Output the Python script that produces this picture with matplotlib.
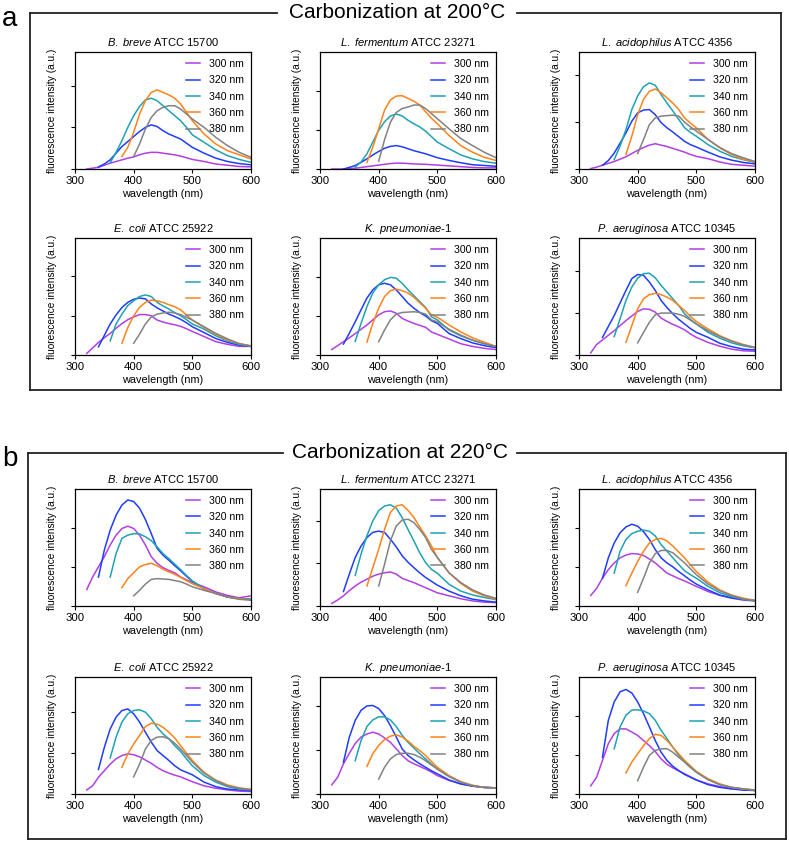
import matplotlib.pyplot as plt
from matplotlib.lines import Line2D

plt.rcParams['font.family'] = ['Liberation Sans', 'DejaVu Sans']
plt.rcParams['mathtext.fontset'] = 'custom'
plt.rcParams['mathtext.rm'] = 'Liberation Sans'
plt.rcParams['mathtext.it'] = 'Liberation Sans:italic'

# emission wavelength grid (nm)
wl = [320, 330, 340, 350, 360, 370, 380, 390, 400, 410, 420, 430, 440, 450,
      460, 470, 480, 490, 500, 520, 540, 560, 580, 600]
excitation = [300, 320, 340, 360, 380]
colors = ['#b23fe6', '#1f3cff', '#1ea2b4', '#ff8319', '#828282']

titles = [r'$\mathit{B.}$ $\mathit{breve}$ ATCC 15700', r'$\mathit{L.}$ $\mathit{fermentum}$ ATCC 23271',
          r'$\mathit{L.}$ $\mathit{acidophilus}$ ATCC 4356', r'$\mathit{E.}$ $\mathit{coli}$ ATCC 25922',
          r'$\mathit{K.}$ $\mathit{pneumoniae}$-1', r'$\mathit{P.}$ $\mathit{aeruginosa}$ ATCC 10345']

# ---- carbonization at 200 C ----
a_breve = [
    [0.0, 0.02, 0.04, 0.09, 0.14, 0.18, 0.22, 0.26, 0.29, 0.34, 0.38, 0.40, 0.40, 0.38, 0.36, 0.34, 0.31, 0.27, 0.23, 0.18, 0.12, 0.09, 0.06, 0.05],
    [0.05, 0.12, 0.22, 0.38, 0.54, 0.66, 0.78, 0.90, 1.0, 1.06, 1.02, 0.92, 0.84, 0.78, 0.72, 0.62, 0.52, 0.38, 0.26, 0.18, 0.13, 0.10],
    [0.15, 0.40, 0.68, 1.0, 1.28, 1.5, 1.66, 1.70, 1.64, 1.52, 1.40, 1.28, 1.16, 1.0, 0.82, 0.64, 0.46, 0.32, 0.23, 0.16],
    [0.30, 0.52, 0.88, 1.32, 1.64, 1.84, 1.90, 1.84, 1.78, 1.70, 1.56, 1.36, 1.16, 0.84, 0.60, 0.44, 0.34, 0.24],
    [0.30, 0.60, 0.96, 1.24, 1.40, 1.48, 1.52, 1.52, 1.44, 1.32, 1.20, 1.0, 0.76, 0.56, 0.40, 0.28],
]
a_fermentum = [
    [0, 0, 0, 0.01, 0.02, 0.04, 0.06, 0.08, 0.10, 0.12, 0.14, 0.15, 0.15, 0.14, 0.13, 0.125, 0.12, 0.11, 0.10, 0.08, 0.06, 0.04, 0.03, 0.03],
    [0.0, 0.04, 0.09, 0.17, 0.26, 0.36, 0.45, 0.53, 0.58, 0.60, 0.57, 0.52, 0.47, 0.43, 0.39, 0.34, 0.29, 0.22, 0.16, 0.11, 0.09, 0.07],
    [0.05, 0.18, 0.39, 0.69, 0.99, 1.21, 1.36, 1.41, 1.36, 1.25, 1.16, 1.08, 0.97, 0.83, 0.69, 0.52, 0.36, 0.26, 0.19, 0.15],
    [0.17, 0.56, 1.03, 1.51, 1.77, 1.87, 1.88, 1.81, 1.74, 1.64, 1.47, 1.30, 1.16, 0.86, 0.60, 0.43, 0.30, 0.22],
    [0.20, 0.75, 1.20, 1.45, 1.55, 1.59, 1.64, 1.64, 1.55, 1.42, 1.29, 1.03, 0.78, 0.60, 0.43, 0.29],
]
a_acidophilus = [
    [0.01, 0.04, 0.08, 0.12, 0.16, 0.21, 0.26, 0.33, 0.40, 0.46, 0.51, 0.54, 0.51, 0.48, 0.44, 0.40, 0.36, 0.31, 0.27, 0.22, 0.15, 0.10, 0.08, 0.06],
    [0.08, 0.18, 0.34, 0.55, 0.77, 1.02, 1.20, 1.26, 1.27, 1.16, 0.99, 0.88, 0.79, 0.69, 0.59, 0.52, 0.47, 0.36, 0.26, 0.19, 0.14, 0.11],
    [0.20, 0.49, 0.84, 1.27, 1.56, 1.76, 1.84, 1.79, 1.59, 1.41, 1.24, 1.06, 0.88, 0.78, 0.70, 0.52, 0.38, 0.27, 0.20, 0.14],
    [0.31, 0.70, 1.16, 1.49, 1.66, 1.71, 1.63, 1.52, 1.41, 1.27, 1.09, 0.98, 0.88, 0.63, 0.45, 0.31, 0.21, 0.15],
    [0.33, 0.63, 0.95, 1.09, 1.13, 1.14, 1.15, 1.13, 1.00, 0.90, 0.81, 0.63, 0.46, 0.33, 0.24, 0.16],
]
a_coli = [
    [0.04, 0.18, 0.32, 0.44, 0.55, 0.68, 0.80, 0.90, 0.97, 1.03, 1.03, 1.0, 0.89, 0.84, 0.80, 0.77, 0.73, 0.67, 0.60, 0.47, 0.34, 0.27, 0.22, 0.22],
    [0.21, 0.50, 0.79, 1.02, 1.21, 1.34, 1.42, 1.45, 1.43, 1.30, 1.20, 1.12, 1.04, 0.98, 0.91, 0.82, 0.72, 0.57, 0.42, 0.32, 0.25, 0.22],
    [0.36, 0.79, 1.04, 1.26, 1.38, 1.49, 1.53, 1.49, 1.34, 1.25, 1.17, 1.08, 1.0, 0.90, 0.79, 0.66, 0.49, 0.36, 0.27, 0.23],
    [0.30, 0.70, 1.00, 1.21, 1.34, 1.40, 1.38, 1.34, 1.28, 1.23, 1.15, 1.02, 0.89, 0.70, 0.53, 0.38, 0.29, 0.23],
    [0.30, 0.53, 0.79, 0.97, 1.04, 1.07, 1.09, 1.07, 1.03, 0.96, 0.89, 0.72, 0.55, 0.41, 0.29, 0.23],
]
a_pneumoniae = [
    [0.14, 0.24, 0.34, 0.44, 0.55, 0.66, 0.77, 0.90, 1.03, 1.11, 1.13, 1.07, 0.94, 0.87, 0.81, 0.76, 0.71, 0.59, 0.53, 0.41, 0.29, 0.22, 0.17, 0.14],
    [0.28, 0.56, 0.85, 1.16, 1.46, 1.67, 1.80, 1.84, 1.80, 1.67, 1.50, 1.33, 1.20, 1.09, 1.00, 0.88, 0.81, 0.55, 0.42, 0.31, 0.24, 0.19],
    [0.35, 0.81, 1.24, 1.59, 1.80, 1.93, 1.99, 1.97, 1.84, 1.67, 1.52, 1.37, 1.22, 0.98, 0.90, 0.64, 0.49, 0.38, 0.29, 0.22],
    [0.33, 0.81, 1.20, 1.50, 1.65, 1.69, 1.65, 1.59, 1.48, 1.34, 1.20, 1.03, 0.97, 0.77, 0.59, 0.44, 0.33, 0.22],
    [0.34, 0.64, 0.90, 1.05, 1.09, 1.10, 1.11, 1.09, 1.05, 0.90, 0.85, 0.66, 0.51, 0.38, 0.29, 0.22],
]
a_aeruginosa = [
    [0.05, 0.25, 0.36, 0.47, 0.58, 0.70, 0.82, 0.93, 1.04, 1.10, 1.09, 1.02, 0.88, 0.80, 0.73, 0.67, 0.60, 0.50, 0.42, 0.30, 0.21, 0.14, 0.10, 0.09],
    [0.42, 0.68, 0.94, 1.24, 1.54, 1.82, 1.92, 1.90, 1.74, 1.54, 1.30, 1.13, 0.98, 0.85, 0.74, 0.63, 0.54, 0.42, 0.28, 0.20, 0.14, 0.12],
    [0.44, 0.86, 1.30, 1.62, 1.83, 1.94, 1.95, 1.84, 1.66, 1.50, 1.34, 1.18, 0.98, 0.85, 0.74, 0.54, 0.40, 0.29, 0.22, 0.17],
    [0.30, 0.70, 1.10, 1.34, 1.44, 1.47, 1.44, 1.38, 1.30, 1.18, 1.06, 0.92, 0.80, 0.62, 0.46, 0.34, 0.25, 0.18],
    [0.29, 0.54, 0.78, 0.96, 1.00, 1.00, 1.00, 0.97, 0.92, 0.83, 0.74, 0.58, 0.44, 0.33, 0.24, 0.18],
]

# ---- carbonization at 220 C ----
b_breve = [
    [0.42, 0.74, 1.00, 1.26, 1.56, 1.81, 1.98, 2.04, 1.98, 1.81, 1.56, 1.26, 1.09, 0.98, 0.91, 0.85, 0.74, 0.67, 0.60, 0.49, 0.36, 0.27, 0.21, 0.26],
    [0.74, 1.43, 1.94, 2.32, 2.58, 2.71, 2.67, 2.50, 2.21, 1.85, 1.47, 1.30, 1.17, 1.03, 0.90, 0.76, 0.63, 0.44, 0.32, 0.23, 0.19, 0.17],
    [0.74, 1.34, 1.73, 1.81, 1.85, 1.84, 1.77, 1.67, 1.51, 1.34, 1.21, 1.07, 0.93, 0.78, 0.64, 0.44, 0.32, 0.23, 0.19, 0.17],
    [0.47, 0.70, 0.85, 1.00, 1.06, 1.09, 1.03, 0.94, 0.87, 0.81, 0.73, 0.65, 0.57, 0.44, 0.32, 0.23, 0.19, 0.15],
    [0.26, 0.40, 0.56, 0.68, 0.70, 0.69, 0.68, 0.65, 0.62, 0.56, 0.49, 0.40, 0.32, 0.23, 0.17, 0.15],
]
b_fermentum = [
    [0.06, 0.14, 0.24, 0.36, 0.47, 0.56, 0.63, 0.70, 0.75, 0.78, 0.80, 0.75, 0.65, 0.60, 0.55, 0.49, 0.43, 0.37, 0.31, 0.24, 0.17, 0.12, 0.09, 0.08],
    [0.34, 0.75, 1.14, 1.41, 1.61, 1.73, 1.76, 1.73, 1.57, 1.39, 1.18, 1.03, 0.90, 0.78, 0.67, 0.58, 0.49, 0.35, 0.24, 0.16, 0.12, 0.09],
    [0.72, 1.22, 1.65, 2.00, 2.24, 2.35, 2.38, 2.30, 2.08, 1.80, 1.53, 1.25, 1.02, 0.86, 0.77, 0.51, 0.35, 0.26, 0.20, 0.15],
    [0.47, 0.90, 1.33, 1.80, 2.20, 2.35, 2.38, 2.25, 2.08, 1.86, 1.65, 1.41, 1.14, 0.78, 0.53, 0.35, 0.24, 0.16],
    [0.47, 0.98, 1.53, 1.88, 2.02, 2.04, 1.96, 1.80, 1.61, 1.33, 1.14, 0.78, 0.55, 0.38, 0.26, 0.18],
]
b_acidophilus = [
    [0.27, 0.45, 0.71, 0.93, 1.10, 1.23, 1.30, 1.34, 1.33, 1.29, 1.20, 1.10, 0.97, 0.84, 0.77, 0.70, 0.64, 0.57, 0.50, 0.37, 0.27, 0.20, 0.15, 0.13],
    [0.71, 1.23, 1.61, 1.87, 2.02, 2.09, 2.04, 1.90, 1.70, 1.44, 1.23, 1.10, 1.00, 0.88, 0.77, 0.66, 0.56, 0.41, 0.28, 0.21, 0.17, 0.14],
    [0.84, 1.40, 1.70, 1.85, 1.91, 1.94, 1.91, 1.79, 1.57, 1.40, 1.23, 1.06, 0.90, 0.80, 0.71, 0.50, 0.34, 0.24, 0.17, 0.13],
    [0.52, 0.84, 1.14, 1.40, 1.61, 1.70, 1.73, 1.66, 1.53, 1.38, 1.23, 1.05, 0.88, 0.61, 0.41, 0.28, 0.20, 0.14],
    [0.35, 0.71, 1.10, 1.34, 1.42, 1.42, 1.36, 1.23, 1.10, 0.95, 0.80, 0.56, 0.39, 0.27, 0.18, 0.14],
]
b_coli = [
    [0.10, 0.20, 0.41, 0.57, 0.73, 0.86, 0.94, 0.98, 0.96, 0.91, 0.83, 0.75, 0.65, 0.57, 0.51, 0.46, 0.42, 0.36, 0.30, 0.20, 0.14, 0.10, 0.07, 0.06],
    [0.60, 1.14, 1.59, 1.88, 2.04, 2.08, 1.96, 1.76, 1.51, 1.27, 1.06, 0.94, 0.82, 0.69, 0.59, 0.53, 0.47, 0.29, 0.18, 0.12, 0.10, 0.08],
    [0.88, 1.39, 1.76, 1.96, 2.04, 2.06, 2.00, 1.84, 1.63, 1.47, 1.35, 1.18, 1.04, 0.86, 0.69, 0.45, 0.29, 0.18, 0.12, 0.10],
    [0.65, 0.98, 1.22, 1.43, 1.65, 1.73, 1.71, 1.63, 1.51, 1.37, 1.18, 1.00, 0.82, 0.53, 0.34, 0.22, 0.15, 0.11],
    [0.42, 0.73, 1.10, 1.31, 1.39, 1.40, 1.35, 1.24, 1.10, 0.94, 0.78, 0.51, 0.33, 0.20, 0.14, 0.11],
]
b_pneumoniae = [
    [0.21, 0.38, 0.69, 0.93, 1.15, 1.30, 1.37, 1.41, 1.37, 1.28, 1.18, 1.03, 0.88, 0.76, 0.69, 0.63, 0.57, 0.50, 0.42, 0.31, 0.23, 0.18, 0.15, 0.14],
    [0.73, 1.30, 1.68, 1.91, 2.01, 2.02, 1.95, 1.79, 1.56, 1.30, 1.03, 0.88, 0.78, 0.69, 0.61, 0.53, 0.46, 0.32, 0.23, 0.18, 0.15, 0.14],
    [0.76, 1.22, 1.54, 1.69, 1.76, 1.76, 1.69, 1.54, 1.34, 1.18, 1.05, 0.92, 0.80, 0.68, 0.57, 0.40, 0.27, 0.19, 0.15, 0.14],
    [0.63, 0.92, 1.11, 1.24, 1.32, 1.35, 1.30, 1.21, 1.09, 0.99, 0.88, 0.74, 0.61, 0.42, 0.28, 0.20, 0.15, 0.14],
    [0.34, 0.61, 0.80, 0.90, 0.93, 0.93, 0.90, 0.84, 0.76, 0.66, 0.57, 0.40, 0.27, 0.19, 0.15, 0.14],
]
b_aeruginosa = [
    [0.21, 0.43, 0.86, 1.29, 1.55, 1.67, 1.67, 1.59, 1.50, 1.37, 1.24, 1.09, 0.90, 0.76, 0.67, 0.59, 0.52, 0.44, 0.36, 0.26, 0.19, 0.14, 0.11, 0.09],
    [0.94, 1.89, 2.36, 2.62, 2.68, 2.59, 2.36, 2.06, 1.72, 1.37, 1.07, 0.86, 0.71, 0.60, 0.50, 0.43, 0.36, 0.24, 0.17, 0.13, 0.10, 0.09],
    [1.16, 1.72, 2.02, 2.15, 2.16, 2.13, 2.06, 1.89, 1.63, 1.42, 1.20, 0.99, 0.82, 0.68, 0.56, 0.37, 0.24, 0.17, 0.13, 0.10],
    [0.54, 0.82, 1.03, 1.24, 1.42, 1.53, 1.50, 1.37, 1.20, 1.03, 0.86, 0.72, 0.58, 0.39, 0.26, 0.17, 0.13, 0.10],
    [0.34, 0.69, 0.99, 1.12, 1.16, 1.16, 1.07, 0.94, 0.82, 0.69, 0.56, 0.37, 0.24, 0.17, 0.13, 0.10],
]

a_sets = [a_breve, a_fermentum, a_acidophilus, a_coli, a_pneumoniae, a_aeruginosa]
b_sets = [b_breve, b_fermentum, b_acidophilus, b_coli, b_pneumoniae, b_aeruginosa]
a_ytop = [2.81, 3.0, 2.5, 2.98, 3.0, 2.79]
b_ytop = [2.99, 2.75, 2.99, 2.86, 2.67, 3.0]

W, H = 789, 842
fig = plt.figure(figsize=(W / 100, H / 100), dpi=100)


def fx(x):
    return x / W


def fy(y):
    return 1 - y / H


def hline(x0, x1, y):
    fig.add_artist(Line2D([fx(x0), fx(x1)], [fy(y), fy(y)], color='#222222', lw=1.3))


def vline(x, y0, y1):
    fig.add_artist(Line2D([fx(x), fx(x)], [fy(y0), fy(y1)], color='#222222', lw=1.3))


def panel(sets, ytops, rows_top, label, title, frame):
    left, top, right, bottom, gap0, gap1 = frame
    vline(left, top, bottom)
    vline(right, top, bottom)
    hline(left, right, bottom)
    hline(left, gap0, top)
    hline(gap1, right, top)
    fig.text(fx((gap0 + gap1) / 2), fy(top), title, fontsize=15, ha='center', va='center')
    fig.text(fx(2), fy(top + 6), label, fontsize=20, ha='left', va='center')

    cols_left = [75, 320, 579]
    for k, (data, ytop) in enumerate(zip(sets, ytops)):
        l = cols_left[k % 3]
        t = rows_top[k // 3]
        ax = fig.add_axes([fx(l), fy(t + 117), 176 / W, 117 / H])
        for i, ex in enumerate(excitation):
            start = wl.index(ex + 20)
            ax.plot(wl[start:], data[i], color=colors[i], lw=1.1, label=f'{ex} nm')
        ax.set_xlim(300, 600)
        ax.set_ylim(0, ytop)
        ax.set_xticks([300, 400, 500, 600])
        ax.set_yticks([0, 1, 2])
        ax.tick_params(direction='out', length=3, width=0.8, labelsize=8.2, labelleft=False, pad=2)
        for s in ax.spines.values():
            s.set_linewidth(0.9)
        ax.set_xlabel('wavelength (nm)', fontsize=7.8, labelpad=2)
        ax.set_ylabel('fluorescence intensity (a.u.)', fontsize=7.3)
        ax.yaxis.set_label_coords(-0.10, 0.5)
        ax.set_title(titles[k], fontsize=8, pad=4)
        ax.legend(loc='upper right', frameon=False, fontsize=7.6, handlelength=1.3,
                  handletextpad=0.9, labelspacing=0.6, borderaxespad=0.25)


panel(a_sets, a_ytop, [52, 238], 'a', 'Carbonization at 200°C', (29.5, 13, 781, 390, 277, 517))
panel(b_sets, b_ytop, [489, 677], 'b', 'Carbonization at 220°C', (28.5, 453, 786, 839, 283, 517))

fig.savefig('out.png', dpi=100)
